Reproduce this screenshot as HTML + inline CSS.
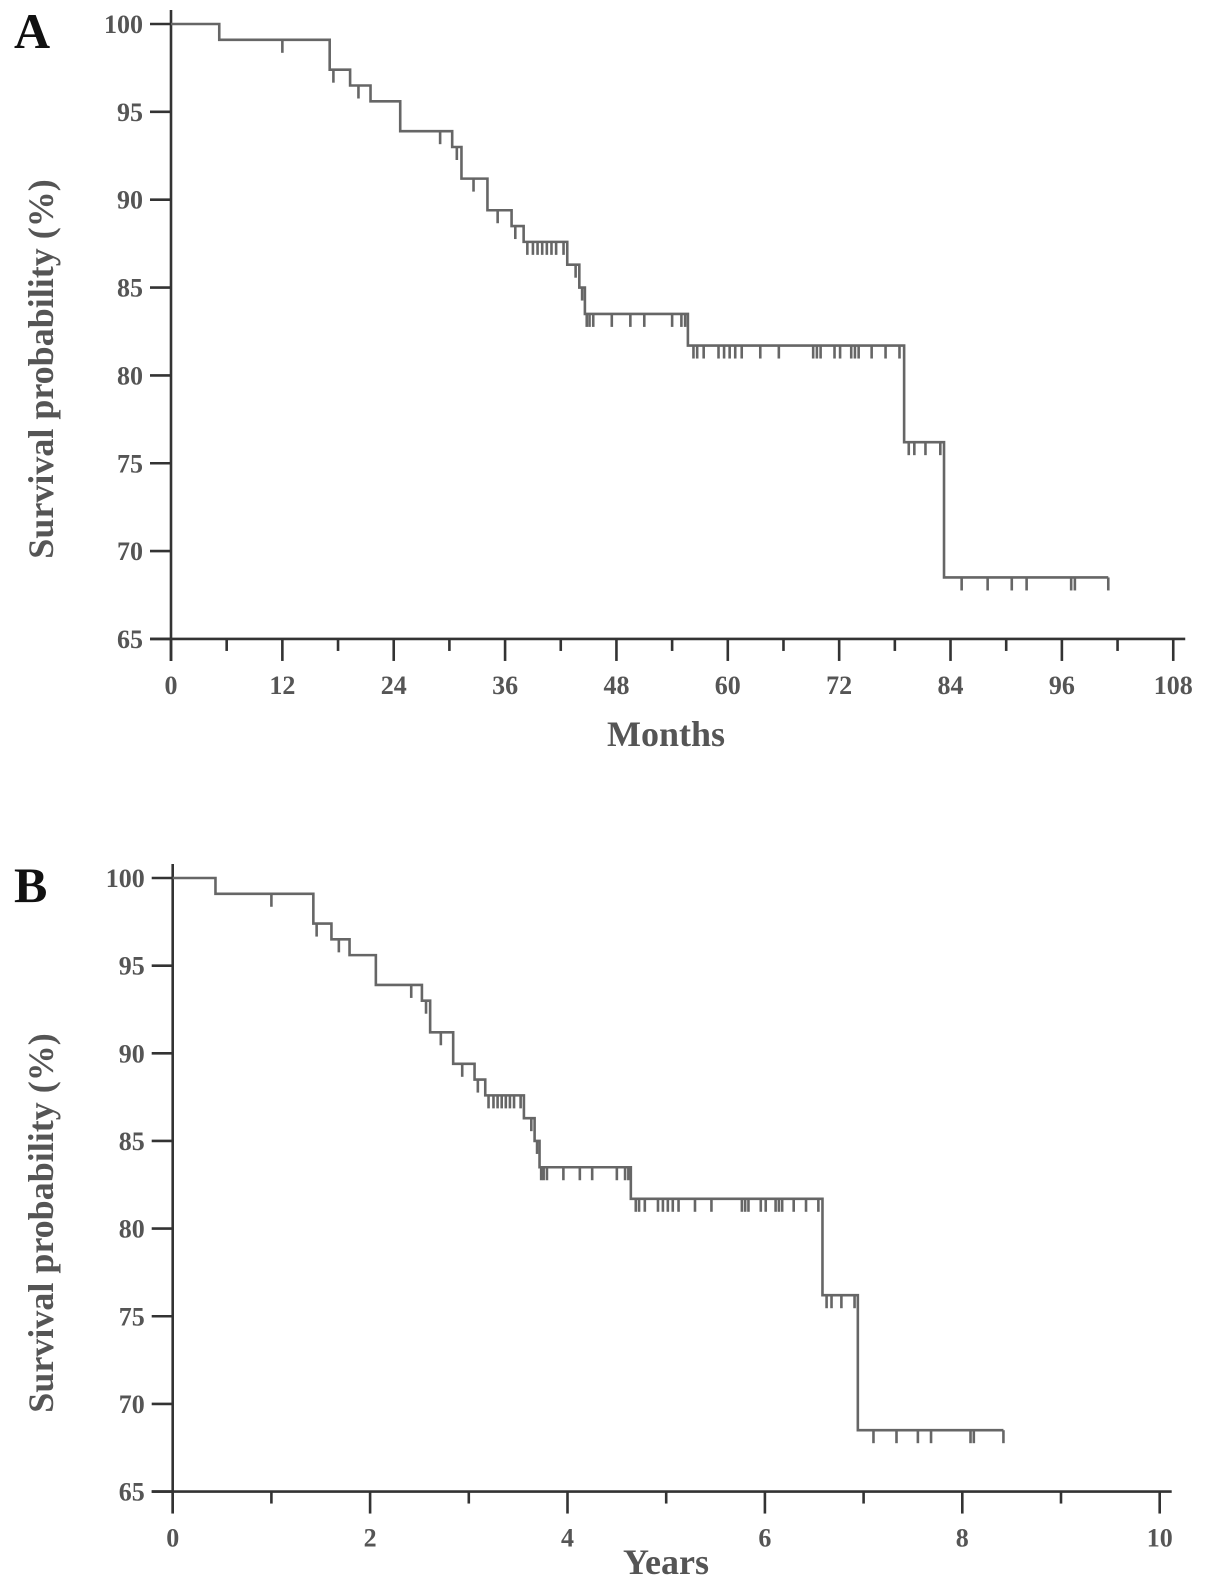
<!DOCTYPE html>
<html><head><meta charset="utf-8"><style>
html,body{margin:0;padding:0;background:#fff;}
svg{display:block;}
text{font-family:"Liberation Serif",serif;}
</style></head><body>
<svg id="chart" width="1205" height="1592" viewBox="0 0 1205 1592"></svg>
<script>
// Kaplan-Meier step data (time in months, survival % after the drop)
const eventTimes = [5.2, 17.1, 19.3, 21.5, 24.7, 30.3, 31.3, 34.1, 36.7, 38.0, 42.7, 44.0, 44.6, 55.7, 79.0, 83.3];
const survivalValues = [99.1, 97.4, 96.5, 95.6, 93.9, 93.0, 91.2, 89.4, 88.5, 87.6, 86.3, 85.0, 83.5, 81.7, 76.2, 68.5];
const censorTimes = [12, 17.5, 20.2, 29, 30.8, 32.6, 35.2, 37.1, 38.4, 39, 39.5, 40, 40.5, 41, 41.5, 42.3, 43.6, 44.3, 44.8, 45.1, 45.5, 47.5, 49.5, 51, 54, 55, 55.4, 56.3, 56.7, 57.4, 59, 59.6, 60.2, 60.8, 61.5, 63.5, 65.5, 69.2, 69.6, 70, 71.5, 72.1, 73.3, 73.7, 74.1, 75.5, 77, 78.5, 79.5, 80.1, 81.3, 82.9, 85.2, 88, 90.6, 92.2, 97, 97.4, 101];
const followUpEnd = 101;
const yTicks = [100, 95, 90, 85, 80, 75, 70, 65];
const monthTicks = [0, 12, 24, 36, 48, 60, 72, 84, 96, 108];
const yearTicks = [0, 2, 4, 6, 8, 10];

const svg = document.getElementById('chart');
const NS = 'http://www.w3.org/2000/svg';
function mk(tag, attrs, parent) {
  const e = document.createElementNS(NS, tag);
  for (const k in attrs) e.setAttribute(k, attrs[k]);
  (parent || svg).appendChild(e);
  return e;
}
function survAt(t) {
  let s = 100;
  for (let i = 0; i < eventTimes.length; i++) if (eventTimes[i] <= t) s = survivalValues[i];
  return s;
}

function panel(cfg) {
  const g = mk('g', {});
  
  
  const X = t => cfg.x0 + (t / cfg.unit) * cfg.xs;   // data in months
  const XT = t => cfg.x0 + t * cfg.xs;                // ticks in axis units
  const Y = v => cfg.y0 + (100 - v) * cfg.ys;
  const yBottom = Y(65);
  const ya = mk('line', {x1: cfg.x0, y1: Y(100) - 14, x2: cfg.x0, y2: yBottom + 22, stroke: '#333', 'stroke-width': 2.6}, g);
  
  
  yTicks.forEach(v => {
    const tk = mk('line', {x1: cfg.x0 - 21, y1: Y(v), x2: cfg.x0, y2: Y(v), stroke: '#333', 'stroke-width': 2.6}, g);
    
    
    const lb = mk('text', {x: cfg.x0 - 28, y: Y(v) + 9, 'text-anchor': 'end', 'font-size': 26, fill: '#555', 'font-weight': 'bold'}, g);
    lb.textContent = v;
    
    
  });
  const xEnd = XT(cfg.ticks[cfg.ticks.length - 1]);
  const xa = mk('line', {x1: cfg.x0 - 21, y1: yBottom, x2: xEnd + 12, y2: yBottom, stroke: '#333', 'stroke-width': 2.6}, g);
  
  
  for (let i = 0; i < cfg.ticks.length; i++) {
    const t = cfg.ticks[i];
    const tk = mk('line', {x1: XT(t), y1: yBottom, x2: XT(t), y2: yBottom + 22, stroke: '#333', 'stroke-width': 2.6}, g);
    
    
    const lb = mk('text', {x: XT(t), y: yBottom + 55, 'text-anchor': 'middle', 'font-size': 26, fill: '#555', 'font-weight': 'bold'}, g);
    lb.textContent = t;
    
    
    if (i < cfg.ticks.length - 1) {
      const m = (t + cfg.ticks[i + 1]) / 2;
      const mt = mk('line', {x1: XT(m), y1: yBottom, x2: XT(m), y2: yBottom + 12, stroke: '#333', 'stroke-width': 2.6}, g);
      
      
    }
  }
  let d = 'M' + X(0) + ' ' + Y(100);
  for (let i = 0; i < eventTimes.length; i++) {
    d += ' H' + X(eventTimes[i]) + ' V' + Y(survivalValues[i]);
  }
  d += ' H' + X(followUpEnd);
  const p = mk('path', {d: d, fill: 'none', stroke: '#666', 'stroke-width': 2.6}, g);
  
  
  censorTimes.forEach(t => {
    const s = survAt(t);
    const c = mk('line', {x1: X(t), y1: Y(s), x2: X(t), y2: Y(s) + 13, stroke: '#666', 'stroke-width': 2.6}, g);
    
    
  });
  const pl = mk('text', {x: 14, y: cfg.y0 + 24, 'font-size': 50, 'font-weight': 'bold', fill: '#111'}, g);
  pl.textContent = cfg.letter;
  
  
  const cy = Y(100) + 345;
  const yt = mk('text', {x: 0, y: 0, transform: 'translate(53,' + cy + ') rotate(-90)', 'text-anchor': 'middle', 'font-size': 36, 'font-weight': 'bold', fill: '#555'}, g);
  yt.textContent = 'Survival probability (%)';
  
  
  const xt = mk('text', {x: 666, y: cfg.xTitleY, 'text-anchor': 'middle', 'font-size': 36, 'font-weight': 'bold', fill: '#555'}, g);
  xt.textContent = cfg.xTitle;
  
  
}

panel({name: 'panel-a', letter: 'A', x0: 171, xs: 9.28, unit: 1, y0: 24, ys: 17.57, ticks: monthTicks, xTitle: 'Months', xTitleY: 746});
panel({name: 'panel-b', letter: 'B', x0: 172.7, xs: 98.7, unit: 12, y0: 878, ys: 17.53, ticks: yearTicks, xTitle: 'Years', xTitleY: 1574});
</script>
</body></html>
